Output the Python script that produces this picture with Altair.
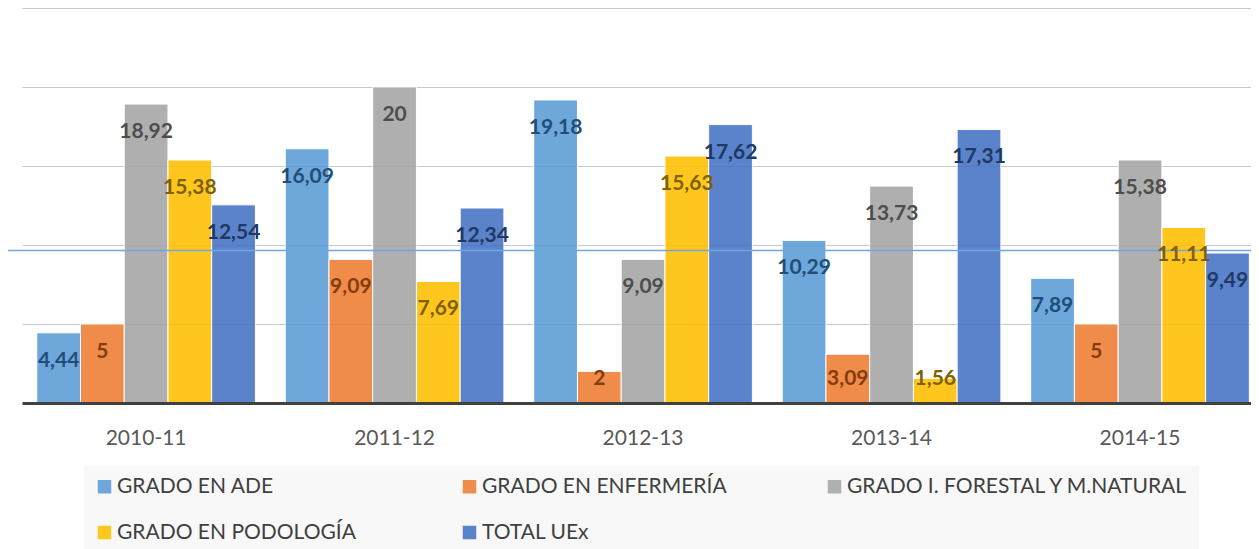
import altair as alt
import pandas as pd

cursos = ["2010-11", "2011-12", "2012-13", "2013-14", "2014-15"]
series = ["GRADO EN ADE", "GRADO EN ENFERMERÍA", "GRADO I. FORESTAL Y M.NATURAL",
          "GRADO EN PODOLOGÍA", "TOTAL UEx"]
ade = [4.44, 16.09, 19.18, 10.29, 7.89]
enfermeria = [5, 9.09, 2, 3.09, 5]
forestal = [18.92, 20, 9.09, 13.73, 15.38]
podologia = [15.38, 7.69, 15.63, 1.56, 11.11]
total = [12.54, 12.34, 17.62, 17.31, 9.49]
linea_ref = [9.65]

colores = ["#5B9BD5", "#ED7D31", "#A5A5A5", "#FFC000", "#4472C4"]
colores_etiqueta = ["#1F4E79", "#843C0C", "#4D4D4D", "#7F6000", "#203864"]

rows = []
for s, vals in zip(series, [ade, enfermeria, forestal, podologia, total]):
    for c, v in zip(cursos, vals):
        rows.append({"curso": c, "serie": s, "valor": v})
df = pd.DataFrame(rows)

W, H = 1229, 395

x = alt.X("curso:N", sort=cursos,
          scale=alt.Scale(paddingInner=0.12, paddingOuter=0.033, align=0.9, round=False),
          axis=alt.Axis(title=None, labelAngle=0, labelFont="Lato", labelFontSize=21,
                        labelColor="#595959", labelPadding=24, ticks=False, tickSize=0,
                        domainColor="#404040", domainWidth=3, grid=False, zindex=1))
xo = alt.XOffset("serie:N", sort=series,
                 scale=alt.Scale(domain=series, paddingInner=0, paddingOuter=0, round=False))
y = alt.Y("valor:Q", scale=alt.Scale(domain=[0, 25], nice=False),
          axis=alt.Axis(title=None, labels=False, ticks=False, domain=False,
                        values=[0, 5, 10, 15, 20, 25], gridColor="#c8c8c8", gridWidth=1))

base = alt.Chart(df)

bars = base.mark_bar(opacity=0.88, stroke="white", strokeWidth=1).encode(
    x=x, xOffset=xo, y=y,
    color=alt.Color("serie:N", sort=series,
                    scale=alt.Scale(domain=series, range=colores),
                    legend=alt.Legend(title=None, orient="none", legendX=62, legendY=458,
                                      direction="horizontal",
                                      columns=3, symbolType="square", symbolSize=182,
                                      symbolStrokeWidth=0, labelFont="Lato", labelFontSize=21,
                                      labelColor="#404040", labelOffset=2,
                                      fillColor="#f8f8f8", padding=10, rowPadding=24,
                                      columnPadding=0, gridAlign="all", labelLimit=600)),
)

rule = alt.Chart(pd.DataFrame({"ref": linea_ref})).mark_rule(
    strokeWidth=1.5, clip=False
).encode(y=alt.Y("ref:Q"), x=alt.value(-17), x2=alt.value(W),
         color=alt.value("#6FA8DC"))

labels = base.transform_calculate(
    ylab="max(datum.valor - 1.77, 1.55)",
    etiqueta="replace(format(datum.valor, ''), '.', ',')",
).mark_text(font="Lato", fontWeight="bold", fontSize=21, baseline="middle").encode(
    x=x, xOffset=xo,
    y=alt.Y("ylab:Q"),
    text="etiqueta:N",
    color=alt.Color("serie:N", scale=alt.Scale(domain=series, range=colores_etiqueta),
                    legend=None),
)

chart = alt.layer(bars, rule, labels).resolve_scale(color="independent").properties(
    width=W, height=H,
    autosize=alt.AutoSizeParams(type="none"),
    padding={"left": 14, "top": 0, "right": 0, "bottom": 146},
).configure_view(stroke=None)

chart.save("out.html", embed_options={"renderer": "svg", "actions": False})
